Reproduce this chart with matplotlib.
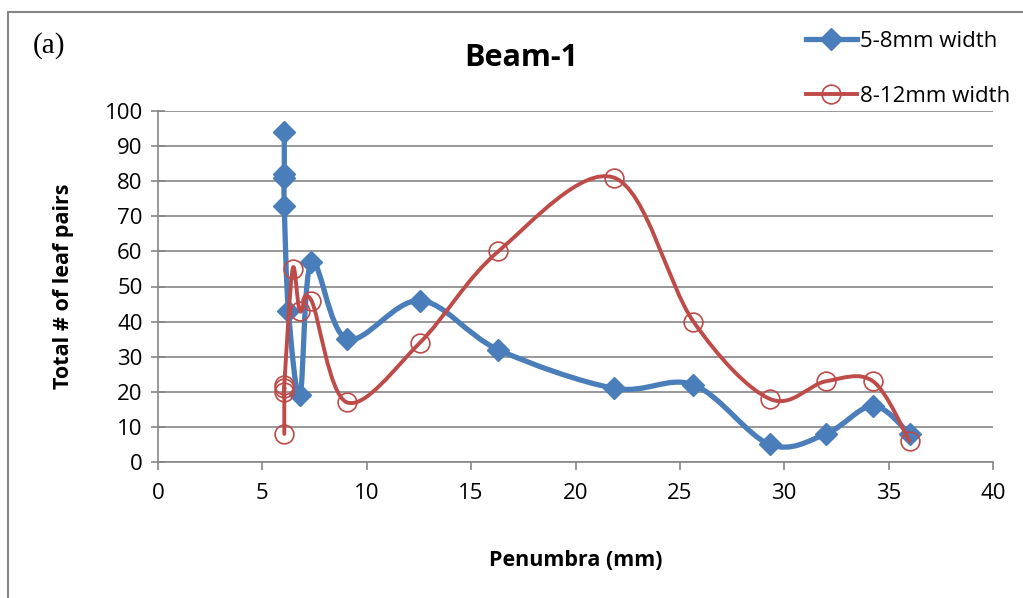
import numpy as np
import matplotlib.pyplot as plt
from matplotlib.path import Path
from matplotlib.patches import PathPatch, Rectangle
from matplotlib.lines import Line2D

plt.rcParams['font.family'] = ['Open Sans', 'DejaVu Sans']

# data
x_small = [6.05, 6.05, 6.05, 6.05, 6.25, 6.8, 7.35, 9.05, 12.55, 16.3, 21.85, 25.65, 29.3, 32.0, 34.25, 36.0]
y_small = [94, 82, 81, 73, 43, 19, 57, 35, 46, 32, 21, 22, 5, 8, 16, 8]

x_large = [6.05, 6.05, 6.05, 6.05, 6.45, 6.8, 7.35, 9.05, 12.55, 16.3, 21.85, 25.65, 29.3, 32.0, 34.25, 36.0]
y_large = [8, 20, 21, 22, 55, 43, 46, 17, 34, 60, 81, 40, 18, 23, 23, 6]

label_small = "5-8mm width"
label_large = "8-12mm width"

BLUE = "#4A7EBB"
RED = "#BE4B48"
GRID = "#868686"


def smooth_path(xs, ys):
    # excel style smoothed line: cubic bezier with catmull-rom control points
    pts = np.column_stack([xs, ys]).astype(float)
    n = len(pts)
    verts = [pts[0]]
    codes = [Path.MOVETO]
    for i in range(n - 1):
        p0 = pts[i - 1] if i > 0 else pts[i]
        p1 = pts[i]
        p2 = pts[i + 1]
        p3 = pts[i + 2] if i + 2 < n else pts[i + 1]
        c1 = p1 + (p2 - p0) / 6.0
        c2 = p2 - (p3 - p1) / 6.0
        verts += [c1, c2, p2]
        codes += [Path.CURVE4] * 3
    return Path(verts, codes)


fig = plt.figure(figsize=(10.23, 5.98), dpi=100)

# outer chart frame
fig.patches.append(Rectangle((8 / 1023, -0.05), 1.2, 1 - 12 / 598 + 0.05,
                             transform=fig.transFigure, fill=False,
                             edgecolor=GRID, linewidth=1.5))

ax = fig.add_axes([158 / 1023, 1 - 462 / 598, 835 / 1023, 351 / 598])
ax.set_xlim(0, 40)
ax.set_ylim(0, 100)
ax.set_xticks(range(0, 41, 5))
ax.set_yticks(range(0, 101, 10))
ax.yaxis.grid(True, color=GRID, linewidth=1.2)
ax.set_axisbelow(True)
for s in ['top', 'right']:
    ax.spines[s].set_visible(False)
for s in ['left', 'bottom']:
    ax.spines[s].set_color(GRID)
    ax.spines[s].set_linewidth(1.2)
ax.tick_params(axis='y', direction='inout', length=10, width=1.2, color=GRID,
               labelsize=16, pad=6)
ax.tick_params(axis='x', direction='out', length=6, width=1.2, color=GRID,
               labelsize=16, pad=9)

ax.add_patch(PathPatch(smooth_path(x_small, y_small), fill=False,
                       edgecolor=BLUE, linewidth=3.8, capstyle='round',
                       joinstyle='round', zorder=3))
ax.plot(x_small, y_small, linestyle='none', marker='D', markersize=11,
        color=BLUE, zorder=4, clip_on=False)

ax.add_patch(PathPatch(smooth_path(x_large, y_large), fill=False,
                       edgecolor=RED, linewidth=2.8, capstyle='round',
                       joinstyle='round', zorder=5))
ax.plot(x_large, y_large, linestyle='none', marker='o', markersize=13.5,
        markerfacecolor='none', markeredgecolor=RED, markeredgewidth=1.2,
        zorder=6, clip_on=False)

ax.set_xlabel("Penumbra (mm)", fontsize=15.5, fontweight='bold', labelpad=33)
ax.set_ylabel("Total # of leaf pairs", fontsize=15.5, fontweight='bold', labelpad=22)

fig.text(521 / 1023, 1 - 58 / 598, "Beam-1", fontsize=22, fontweight='bold',
         ha='center', va='center')
fig.text(33 / 1023, 1 - 46 / 598, "(a)", fontsize=21, family='Liberation Serif',
         ha='left', va='center')

handles = [
    Line2D([], [], color=BLUE, linewidth=3.8, marker='D', markersize=11),
    Line2D([], [], color=RED, linewidth=2.8, marker='o', markersize=13.5,
           markerfacecolor='none', markeredgewidth=1.2),
]
fig.legend(handles, [label_small, label_large], loc='center left',
           bbox_to_anchor=(797 / 1023, 1 - 69 / 598), frameon=False,
           fontsize=16, handlelength=2.3, handletextpad=0.15,
           labelspacing=1.55, borderaxespad=0)

fig.savefig("out.png", dpi=100)
